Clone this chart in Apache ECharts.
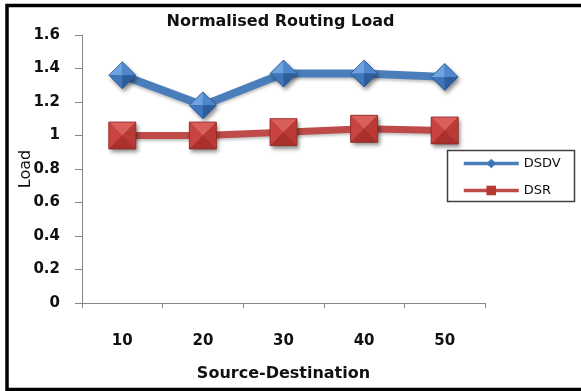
<!DOCTYPE html>
<html>
<head>
<meta charset="utf-8">
<script src="https://cdn.jsdelivr.net/npm/echarts@6/dist/echarts.min.js"></script>
<style>
  html, body { margin: 0; padding: 0; background: #fff; }
  #chart { width: 581px; height: 391px; }
</style>
</head>
<body>
<div id="chart"></div>
<script>
// Source-destination pairs on the x axis
const categories = ['10', '20', '30', '40', '50'];
// Normalised routing load per protocol
const dsdvLoad = [1.36, 1.18, 1.37, 1.37, 1.35];
const dsrLoad = [1.00, 1.00, 1.02, 1.04, 1.03];
// Value axis range
const yMin = 0;
const yMax = 1.6;
const yStep = 0.2;

const FONT = '"DejaVu Sans", "Open Sans", sans-serif';

// Four-faced pyramid markers, drawn at each data point's axis coordinate
function diamondMarker(params, api) {
  const p = api.coord([api.value(0), api.value(1)]);
  const x = p[0], y = p[1], h = 13.5;
  const T = [x, y - h], R = [x + h, y], B = [x, y + h], L = [x - h, y], C = [x, y];
  const face = (pts, fill) => ({ type: 'polygon', shape: { points: pts }, style: { fill: fill } });
  return {
    type: 'group',
    children: [
      { type: 'polygon', shape: { points: [T, R, B, L] },
        style: { fill: '#3a6db0', shadowColor: 'rgba(0,0,0,0.45)', shadowBlur: 4, shadowOffsetX: 2, shadowOffsetY: 3 } },
      face([T, L, C], '#6fa3e0'),
      face([T, R, C], '#4f87cf'),
      face([B, L, C], '#3f75ba'),
      face([B, R, C], '#2e5d9c'),
      { type: 'polygon', shape: { points: [T, R, B, L] },
        style: { fill: 'none', stroke: '#2f5b94', lineWidth: 0.8 } }
    ]
  };
}

function squareMarker(params, api) {
  const p = api.coord([api.value(0), api.value(1)]);
  const x = p[0], y = p[1], h = 13.5;
  const TL = [x - h, y - h], TR = [x + h, y - h], BR = [x + h, y + h], BL = [x - h, y + h], C = [x, y];
  const face = (pts, fill) => ({ type: 'polygon', shape: { points: pts }, style: { fill: fill } });
  return {
    type: 'group',
    children: [
      { type: 'polygon', shape: { points: [TL, TR, BR, BL] },
        style: { fill: '#c0403c', shadowColor: 'rgba(0,0,0,0.45)', shadowBlur: 4, shadowOffsetX: 2, shadowOffsetY: 3 } },
      face([TL, TR, C], '#d95f5b'),
      face([TL, BL, C], '#c9443f'),
      face([TR, BR, C], '#ba3a36'),
      face([BL, BR, C], '#a9302d'),
      { type: 'polygon', shape: { points: [TL, TR, BR, BL] },
        style: { fill: 'none', stroke: '#8c2a27', lineWidth: 0.8 } }
    ]
  };
}

const chart = echarts.init(document.getElementById('chart'), null, { renderer: 'canvas' });

chart.setOption({
  animation: false,
  backgroundColor: '#ffffff',
  textStyle: { fontFamily: FONT },
  title: {
    text: 'Normalised Routing Load',
    left: 275.5, top: 9, textAlign: 'center',
    textStyle: { fontFamily: FONT, fontSize: 16, fontWeight: 'bold', color: '#111' }
  },
  graphic: [
    { type: 'rect', shape: { x: 7, y: 5.5, width: 600, height: 384 },
      style: { fill: 'none', stroke: '#000', lineWidth: 3.5 }, z: 100 },
    { type: 'rect', shape: { x: 447.5, y: 150.5, width: 127, height: 51 },
      style: { fill: '#fff', stroke: '#404040', lineWidth: 1.5 }, z: 5 }
  ],
  legend: {
    data: ['DSDV', 'DSR'],
    orient: 'vertical',
    left: 462, top: 157,
    padding: 0,
    itemWidth: 55, itemHeight: 12,
    itemGap: 14,
    z: 10,
    lineStyle: { width: 3.5 },
    textStyle: { fontFamily: FONT, fontSize: 13, color: '#111' }
  },
  grid: { left: 82, right: 96, top: 35, bottom: 88, containLabel: false },
  xAxis: {
    type: 'category',
    data: categories,
    boundaryGap: true,
    name: 'Source-Destination',
    nameLocation: 'middle',
    nameGap: 63,
    nameMoveOverlap: false,
    nameTextStyle: { fontFamily: FONT, fontSize: 16, fontWeight: 'bold', color: '#111' },
    axisLine: { lineStyle: { color: '#868686', width: 1 } },
    axisTick: { show: true, length: 5, inside: false, lineStyle: { color: '#868686' } },
    axisLabel: { margin: 31, fontFamily: FONT, fontSize: 15, fontWeight: 'bold', color: '#111' },
    splitLine: { show: false }
  },
  yAxis: {
    type: 'value',
    min: yMin, max: yMax, interval: yStep,
    name: 'Load',
    nameLocation: 'middle',
    nameGap: 48,
    nameMoveOverlap: false,
    nameTextStyle: { fontFamily: FONT, fontSize: 16, color: '#111' },
    axisLine: { show: true, lineStyle: { color: '#868686', width: 1 } },
    axisTick: { show: true, length: 7, lineStyle: { color: '#868686' } },
    axisLabel: { margin: 22, fontFamily: FONT, fontSize: 15, fontWeight: 'bold', color: '#111' },
    splitLine: { show: false }
  },
  series: [
    {
      name: 'DSDV', type: 'line', data: dsdvLoad,
      symbol: 'diamond', symbolSize: 14,
      itemStyle: { color: '#3f75ba' },
      lineStyle: { color: '#4a7ebb', width: 8, shadowColor: 'rgba(0,0,0,0.25)', shadowBlur: 3, shadowOffsetY: 2 },
      z: 2
    },
    {
      name: 'DSR', type: 'line', data: dsrLoad,
      symbol: 'rect', symbolSize: 14,
      itemStyle: { color: '#b83834' },
      lineStyle: { color: '#be4b48', width: 7, shadowColor: 'rgba(0,0,0,0.25)', shadowBlur: 3, shadowOffsetY: 2 },
      z: 2
    },
    {
      type: 'custom', name: 'DSDV markers',
      data: dsdvLoad.map((v, i) => [i, v]),
      encode: { x: 0, y: 1 },
      renderItem: diamondMarker, z: 4
    },
    {
      type: 'custom', name: 'DSR markers',
      data: dsrLoad.map((v, i) => [i, v]),
      encode: { x: 0, y: 1 },
      renderItem: squareMarker, z: 4
    }
  ]
});
</script>
</body>
</html>
